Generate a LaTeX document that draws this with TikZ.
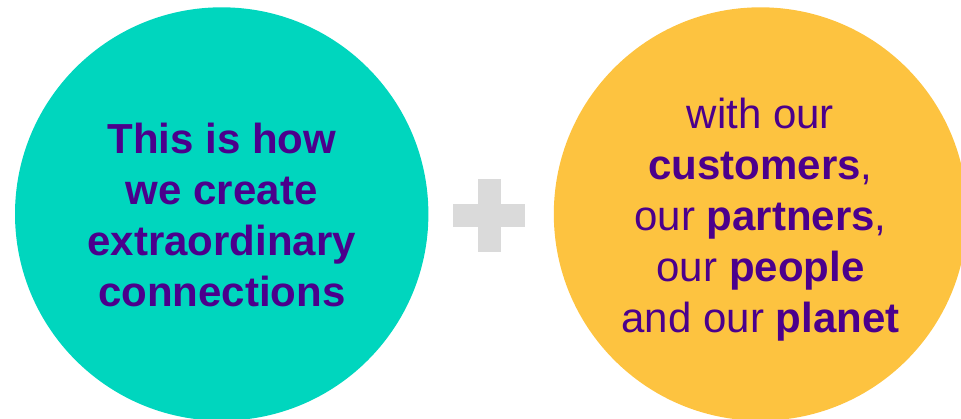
\documentclass[tikz,border=0pt]{standalone}
\usepackage{fontspec}
\setmainfont{Liberation Sans}
\usepackage{tikz}
\definecolor{tealdisc}{RGB}{0,214,190}
\definecolor{sundisc}{RGB}{253,195,64}
\definecolor{inkpurple}{RGB}{75,0,140}
\definecolor{plusgrey}{RGB}{218,218,218}

\begin{document}
\begin{tikzpicture}[x=1pt,y=-1pt,
    disc/.style={circle, minimum size=413.4pt, inner sep=0pt},
    words/.style={text=inkpurple, align=center, inner sep=0pt,
      font=\fontsize{42}{51}\selectfont}]
    \useasboundingbox (0,0) rectangle (961,418);
    % the two discs
    \node[disc, fill=tealdisc] (how) at (221.7,214) {};
    \node[disc, fill=sundisc] (with) at (760.5,214) {};
    \node[words, font=\fontsize{42}{51}\selectfont\bfseries] (howtxt) at ([yshift=-1pt]how.center)
      {This is how\\we create\\extraordinary\\connections};
    \node[words] (withtxt) at ([yshift=-6pt]with.center)
      {with our\\\textbf{customers},\\our \textbf{partners},\\our \textbf{people}\\and our \textbf{planet}};
    % plus sign
    \fill[plusgrey] (453.3,204) rectangle (525,226.7);
    \fill[plusgrey] (477.7,179.3) rectangle (500.7,251.7);
  \end{tikzpicture}
\end{document}
